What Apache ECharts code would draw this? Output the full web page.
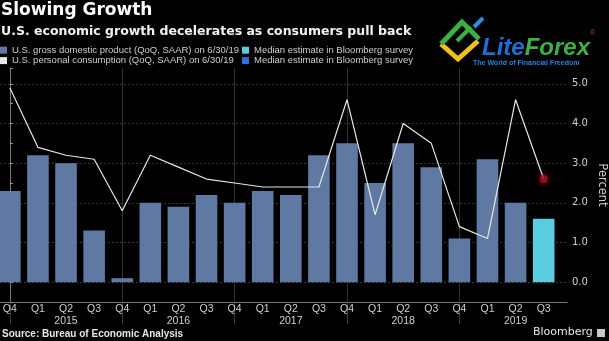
<!DOCTYPE html>
<html>
<head>
<meta charset="utf-8">
<script src="https://cdn.jsdelivr.net/npm/echarts@6/dist/echarts.min.js"></script>
<style>
  html, body { margin: 0; padding: 0; background: #000; }
  #chart { width: 609px; height: 341px; }
</style>
</head>
<body>
<div id="chart"></div>
<script>
// Quarter labels, Q4 2014 through Q3 2019
const quarters = ['Q4','Q1','Q2','Q3','Q4','Q1','Q2','Q3','Q4','Q1','Q2','Q3','Q4','Q1','Q2','Q3','Q4','Q1','Q2','Q3'];
const yearLabels = ['','','2015','','','','2016','','','','2017','','','','2018','','','','2019',''];
// Real GDP growth, QoQ SAAR (%)
const gdp = [2.3, 3.2, 3.0, 1.3, 0.1, 2.0, 1.9, 2.2, 2.0, 2.3, 2.2, 3.2, 3.5, 2.5, 3.5, 2.9, 1.1, 3.1, 2.0];
const gdpEstimate = 1.6;
// Personal consumption growth, QoQ SAAR (%)
const consumption = [4.9, 3.4, 3.2, 3.1, 1.8, 3.2, 2.9, 2.6, 2.5, 2.4, 2.4, 2.4, 4.6, 1.7, 4.0, 3.5, 1.4, 1.1, 4.6];
const consumptionEstimate = 2.6;
// Q4 positions that open each year block
const yearBreaks = [0, 4, 8, 12, 16];
const yTickLabels = [0, 1, 2, 3, 4, 5];

const gdpName = 'U.S. gross domestic product (QoQ, SAAR) on 6/30/19';
const pceName = 'U.S. personal consumption (QoQ, SAAR) on 6/30/19';
const estName = 'Median estimate in Bloomberg survey';
const estIdx = quarters.length - 1;

const txt = '#cfcfcf';
const legendText = { color: txt, fontFamily: 'Liberation Sans', fontSize: 9.5, lineHeight: 10.4 };
const legendBase = {
  orient: 'vertical', itemWidth: 7, itemHeight: 7, itemGap: 0, icon: 'rect',
  selectedMode: false, padding: 0, textStyle: legendText
};

const chart = echarts.init(document.getElementById('chart'));
chart.setOption({
  backgroundColor: '#000',
  animation: false,
  title: {
    text: 'Slowing Growth',
    subtext: 'U.S. economic growth decelerates as consumers pull back',
    left: 0, top: 0, padding: [1, 1], itemGap: 3,
    textStyle: { color: '#fff', fontFamily: 'DejaVu Sans', fontWeight: 'bold', fontSize: 17, lineHeight: 20 },
    subtextStyle: { color: '#f2f2f2', fontFamily: 'DejaVu Sans', fontWeight: 'bold', fontSize: 12.5, lineHeight: 15 }
  },
  legend: [
    Object.assign({}, legendBase, { left: 0, top: 45, data: [gdpName, pceName] }),
    Object.assign({}, legendBase, { left: 242, top: 45, data: [estName], itemStyle: { color: '#5acde0' } }),
    Object.assign({}, legendBase, { left: 242, top: 55.4, data: [estName], itemStyle: { color: '#2f6fe0' } })
  ],
  grid: { left: 0, right: 42, top: 68, bottom: 39, outerBoundsMode: 'none' },
  xAxis: {
    type: 'value',
    min: -0.35, max: 19.83,
    axisLine: { onZero: false, lineStyle: { color: '#7a7a7a', width: 1 } },
    axisTick: { show: true, customValues: yearBreaks, length: 22, lineStyle: { color: '#3c3c3c' } },
    splitLine: { show: true, lineStyle: { color: '#333', width: 1 } },
    axisLabel: {
      customValues: quarters.map((q, i) => i),
      formatter: v => yearLabels[v] ? quarters[v] + '\n' + yearLabels[v] : quarters[v],
      color: txt, fontFamily: 'Liberation Sans', fontSize: 10.5, lineHeight: 12, margin: 1
    }
  },
  yAxis: {
    type: 'value',
    position: 'right',
    min: -0.5, max: 5.4, interval: 0.5,
    axisLine: { show: true, lineStyle: { color: '#7a7a7a' } },
    axisTick: { show: true, length: 3, lineStyle: { color: '#9a9a9a' } },
    axisLabel: {
      formatter: v => yTickLabels.includes(v) ? v.toFixed(1) : '',
      color: txt, fontFamily: 'DejaVu Sans', fontSize: 10, margin: 5
    },
    splitLine: { show: true, lineStyle: { color: ['rgba(0,0,0,0)', '#353535'], type: [2, 2] } },
    name: 'Percent', nameLocation: 'middle', nameRotate: -90, nameGap: 29, nameMoveOverlap: false,
    nameTextStyle: { color: txt, fontFamily: 'DejaVu Sans', fontSize: 11.5 }
  },
  series: [
    {
      name: gdpName, type: 'bar', barWidth: 21.6, barGap: '-100%',
      data: gdp.map((v, i) => [i, v]),
      itemStyle: { color: '#6079a3' }
    },
    {
      name: estName, type: 'bar', barWidth: 21.6, barGap: '-100%',
      data: [[estIdx, gdpEstimate]],
      itemStyle: { color: '#5acde0' }
    },
    {
      name: pceName, type: 'line', symbol: 'none', z: 3,
      data: consumption.map((v, i) => [i, v]).concat([[estIdx, consumptionEstimate]]),
      lineStyle: { color: '#e6e6e6', width: 1.2 },
      itemStyle: { color: '#e6e6e6' }
    },
    {
      name: estName, type: 'scatter', symbolSize: 8, z: 4,
      data: [[estIdx, consumptionEstimate]],
      itemStyle: { color: '#a3101f', shadowBlur: 6, shadowColor: 'rgba(230,20,40,0.9)' }
    }
  ],
  graphic: [
    { type: 'text', left: 2, top: 329, style: { text: 'Source: Bureau of Economic Analysis', fill: '#e6e6e6', font: 'bold 10px "Liberation Sans"' } },
    { type: 'text', left: 533, top: 327, style: { text: 'Bloomberg', fill: '#e6e6e6', font: '11px "DejaVu Sans"' } },
    { type: 'rect', left: 597, top: 329, shape: { width: 8, height: 8 }, style: { fill: '#c8c8c8' } },
    // LiteForex emblem
    { type: 'polyline', shape: { points: [[441, 44], [458, 59], [478, 41]] }, style: { stroke: '#f2c01e', lineWidth: 5, fill: null } },
    { type: 'polyline', shape: { points: [[441, 44], [462, 22], [479, 39]] }, style: { stroke: '#3cb043', lineWidth: 5, fill: null } },
    { type: 'line', shape: { x1: 457, y1: 41, x2: 471, y2: 27 }, style: { stroke: '#3cb043', lineWidth: 4 } },
    { type: 'line', shape: { x1: 474, y1: 27, x2: 483, y2: 18 }, style: { stroke: '#2a8fe0', lineWidth: 4 } },
    { type: 'text', left: 482, top: 36, style: { text: '{a|Lite}{b|Forex}', font: 'italic bold 24px "Liberation Sans"',
        rich: { a: { fill: '#1f6fd6', font: 'italic bold 24px "Liberation Sans"' }, b: { fill: '#3fae45', font: 'italic bold 24px "Liberation Sans"' } } } },
    { type: 'text', left: 590, top: 30, style: { text: '®', fill: '#d03030', font: '7px "Liberation Sans"' } },
    { type: 'text', left: 473, top: 60, style: { text: 'The World of Financial Freedom', fill: '#2b80d8', font: 'bold 7px "Liberation Sans"' } }
  ]
});
</script>
</body>
</html>
